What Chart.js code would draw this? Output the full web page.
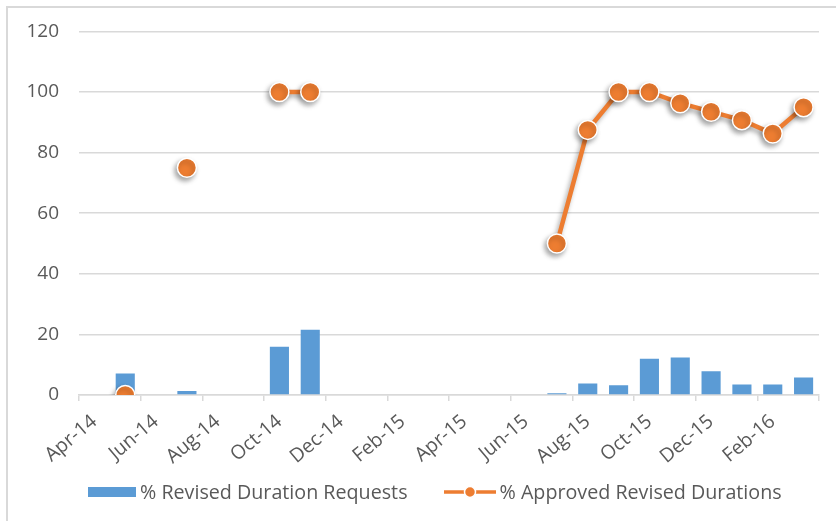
<!DOCTYPE html>
<html>
<head>
<meta charset="utf-8">
<script src="https://cdn.jsdelivr.net/npm/chart.js@4.4.1/dist/chart.umd.min.js"></script>
<style>
  body { margin: 0; background: #fff; }
  #wrap { position: relative; width: 836px; height: 521px; }
  #custom-legend {
    position: absolute; left: 88px; top: 478px;
    display: flex; align-items: center;
    font-family: 'Open Sans', sans-serif; font-size: 19.7px; color: #595959;
    white-space: nowrap;
  }
  .legend-item { display: flex; align-items: center; margin-right: 36px; }
  .legend-item canvas { margin-right: 4px; }
</style>
</head>
<body>
<div id="wrap">
  <canvas id="durationChart" width="836" height="521"></canvas>
  <div id="custom-legend"></div>
</div>
<script>
// months on the axis, Apr-14 .. Mar-16
const months = ['Apr-14', 'May-14', 'Jun-14', 'Jul-14', 'Aug-14', 'Sep-14', 'Oct-14', 'Nov-14',
    'Dec-14', 'Jan-15', 'Feb-15', 'Mar-15', 'Apr-15', 'May-15', 'Jun-15', 'Jul-15',
    'Aug-15', 'Sep-15', 'Oct-15', 'Nov-15', 'Dec-15', 'Jan-16', 'Feb-16', 'Mar-16'];

const revisedRequests = [null, 7.1, null, 1.3, null, null, 15.9, 21.5,
    null, null, null, null, null, null, null, 0.6,
    3.8, 3.2, 12.0, 12.4, 7.8, 3.5, 3.5, 5.8];

const approvedRevised = [null, 0, null, 75, null, null, 100, 100,
    null, null, null, null, null, null, null, 50,
    87.5, 100, 100, 96.3, 93.5, 90.7, 86.3, 95];

const yTicks = [0, 20, 40, 60, 80, 100, 120];

const BLUE = '#5B9BD5';
const ORANGE = '#ED7D31';
const TEXT = '#595959';
const GRID = '#d9d9d9';
const FONT = "'Open Sans', sans-serif";

const frame = {
    id: 'frame',
    beforeDraw(chart) {
        const c = chart.ctx;
        c.save();
        c.fillStyle = '#fff';
        c.fillRect(0, 0, chart.width, chart.height);
        c.strokeStyle = GRID;
        c.lineWidth = 2;
        c.beginPath();
        c.moveTo(7, chart.height);
        c.lineTo(7, 7);
        c.lineTo(chart.width, 7);
        c.stroke();
        c.restore();
    },
    beforeDatasetDraw(chart, args) {
        if (args.index !== 1) return;
        const c = chart.ctx;
        c.save();
        c.shadowColor = 'rgba(0,0,0,0.35)';
        c.shadowBlur = 5;
        c.shadowOffsetX = -2;
        c.shadowOffsetY = 3;
    },
    afterDatasetDraw(chart, args) {
        if (args.index === 1) chart.ctx.restore();
    }
};

const ctx = document.getElementById('durationChart').getContext('2d');
const durationChart = new Chart(ctx, {
    type: 'bar',
    data: {
        labels: months,
        datasets: [
            {
                label: '% Revised Duration Requests',
                data: revisedRequests,
                backgroundColor: BLUE,
                barPercentage: 0.62,
                categoryPercentage: 1,
                order: 2
            },
            {
                type: 'line',
                label: '% Approved Revised Durations',
                data: approvedRevised,
                borderColor: ORANGE,
                borderWidth: 4.5,
                pointRadius: 9.5,
                pointBackgroundColor: ORANGE,
                pointBorderColor: '#fff',
                pointBorderWidth: 1.5,
                spanGaps: false,
                order: 1
            }
        ]
    },
    options: {
        responsive: false,
        animation: false,
        layout: { padding: { left: 6, right: 17, top: 30, bottom: 56 } },
        scales: {
            x: {
                offset: true,
                grid: {
                    offset: true,
                    drawOnChartArea: false,
                    tickLength: 6,
                    lineWidth: 1.5,
                    color: (c) => (c.index === undefined || c.index % 2 === 0) ? GRID : 'rgba(0,0,0,0)'
                },
                border: { color: GRID, width: 1.5 },
                ticks: {
                    autoSkip: false,
                    minRotation: 40,
                    maxRotation: 40,
                    padding: 9,
                    color: TEXT,
                    font: { family: FONT, size: 19.5 },
                    callback: (v, i) => (i % 2 === 0 ? months[i] : '')
                },
                afterFit: (s) => { s.height = 70; }
            },
            y: {
                min: yTicks[0],
                max: yTicks[yTicks.length - 1],
                afterBuildTicks: (s) => { s.ticks = yTicks.map(v => ({ value: v })); },
                ticks: {
                    padding: 20,
                    color: TEXT,
                    font: { family: FONT, size: 19 }
                },
                grid: { color: GRID, lineWidth: 1.5, drawTicks: false },
                border: { display: false },
                afterFit: (s) => { s.width = 73; }
            }
        },
        plugins: {
            tooltip: { enabled: false },
            legend: { display: false }
        }
    },
    plugins: [frame]
});

// custom legend under the chart
function legendIcon(index) {
    const c = document.createElement('canvas');
    const g = c.getContext('2d');
    if (index === 0) {
        c.width = 48; c.height = 10;
        g.fillStyle = BLUE;
        g.fillRect(0, 0, 48, 10);
    } else {
        c.width = 52; c.height = 14;
        g.strokeStyle = ORANGE;
        g.lineWidth = 3.5;
        g.beginPath(); g.moveTo(0, 7); g.lineTo(52, 7); g.stroke();
        g.fillStyle = ORANGE;
        g.strokeStyle = '#fff';
        g.lineWidth = 1.5;
        g.beginPath(); g.arc(26, 7, 5.5, 0, Math.PI * 2); g.fill(); g.stroke();
    }
    return c;
}

const customLegend = document.getElementById('custom-legend');
durationChart.data.datasets.forEach((dataset, index) => {
    const legendItem = document.createElement('div');
    legendItem.classList.add('legend-item');
    legendItem.appendChild(legendIcon(index));
    const label = document.createElement('span');
    label.textContent = dataset.label;
    legendItem.appendChild(label);
    customLegend.appendChild(legendItem);
});
</script>
</body>
</html>
